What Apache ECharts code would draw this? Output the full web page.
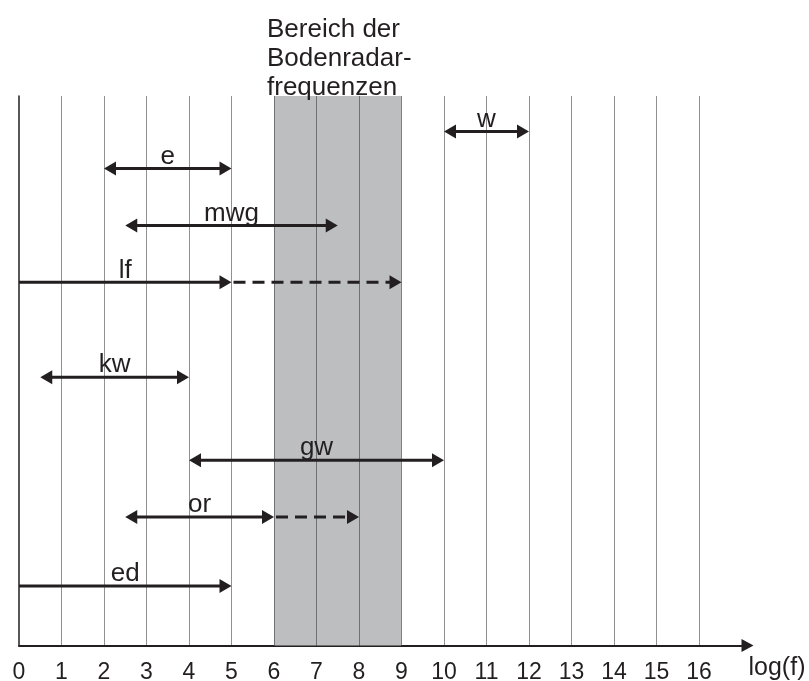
<!DOCTYPE html>
<html>
<head>
<meta charset="utf-8">
<script src="https://cdn.jsdelivr.net/npm/echarts@6/dist/echarts.min.js"></script>
<style>
  html, body { margin: 0; padding: 0; background: #ffffff; }
  #chart { width: 809px; height: 681px; }
</style>
</head>
<body>
<div id="chart"></div>
<script>
// Frequency ranges of the different methods on a log(f) scale
const names      = ['w', 'e', 'mwg', 'lf', 'kw', 'gw', 'or', 'ed'];
const levels     = [10.29, 9.55, 8.41, 7.27, 5.37, 3.71, 2.57, 1.19];
const starts     = [10, 2, 2.5, 0, 0.5, 4, 2.5, 0];
const ends       = [12, 5, 7.5, 5, 4, 10, 6, 5];
const dashedEnds = [null, null, null, 9, null, null, 8, null];
const leftHeads  = [true, true, true, false, true, true, true, false];

// Ground radar frequency band
const bandFrom = 6;
const bandTo = 9;
const bandTitle = 'Bereich der\nBodenradar-\nfrequenzen';

// Axis ticks
const tickValues = [0, 1, 2, 3, 4, 5, 6, 7, 8, 9, 10, 11, 12, 13, 14, 15, 16];
const gridValues = [1, 2, 3, 4, 5, 6, 7, 8, 9, 10, 11, 12, 13, 14, 15, 16];

const INK = '#231f20';
const FONT = '"Liberation Sans", Arial, sans-serif';

const arrowData = names.map((n, i) => [starts[i], ends[i], levels[i], dashedEnds[i] == null ? -1 : dashedEnds[i], leftHeads[i] ? 1 : 0, i]);

function head(tipX, y, dir) {
  const len = 12, half = 7;
  return {
    type: 'polygon',
    shape: { points: [[tipX, y], [tipX - dir * len, y - half], [tipX - dir * len, y + half]] },
    style: { fill: INK }
  };
}

function renderArrow(params, api) {
  const x0 = api.value(0), x1 = api.value(1), lv = api.value(2);
  const xd = api.value(3), hasLeft = api.value(4) === 1, idx = api.value(5);
  const p0 = api.coord([x0, lv]);
  const p1 = api.coord([x1, lv]);
  const y = p0[1];
  const children = [];
  const lineStart = hasLeft ? p0[0] + 10 : p0[0];
  children.push({
    type: 'line',
    shape: { x1: lineStart, y1: y, x2: p1[0] - 10, y2: y },
    style: { stroke: INK, lineWidth: 3 }
  });
  if (hasLeft) children.push(head(p0[0], y, -1));
  children.push(head(p1[0], y, 1));
  if (xd >= 0) {
    const p2 = api.coord([xd, lv]);
    children.push({
      type: 'line',
      shape: { x1: p1[0] + 2, y1: y, x2: p2[0] - 10, y2: y },
      style: { stroke: INK, lineWidth: 3, lineDash: [12, 7] }
    });
    children.push(head(p2[0], y, 1));
  }
  children.push({
    type: 'text',
    style: {
      text: names[idx],
      x: (p0[0] + p1[0]) / 2,
      y: y + 1,
      align: 'center',
      verticalAlign: 'bottom',
      fill: INK,
      font: '26px ' + FONT
    }
  });
  return { type: 'group', children: children };
}

const chart = echarts.init(document.getElementById('chart'), null, { renderer: 'canvas' });

chart.setOption({
  backgroundColor: '#ffffff',
  animation: false,
  title: {
    text: bandTitle,
    left: 267,
    top: 15,
    padding: 0,
    textStyle: { fontSize: 26, fontWeight: 'normal', lineHeight: 29, color: INK, fontFamily: FONT }
  },
  grid: { left: 19, right: 67.5, top: 96, bottom: 35.5, containLabel: false, outerBoundsMode: 'none' },
  xAxis: {
    type: 'value',
    min: 0,
    max: 17,
    interval: 1,
    name: 'log(f)',
    nameLocation: 'end',
    nameGap: 7,
    nameTextStyle: { fontSize: 25, color: INK, fontFamily: FONT, align: 'left', verticalAlign: 'top', padding: [10, 0, 0, 0] },
    axisLine: { show: true, onZero: false, symbol: ['none', 'triangle'], symbolSize: [13, 12], symbolOffset: [0, 6], lineStyle: { color: INK, width: 2 } },
    axisTick: { show: false },
    splitLine: { show: false },
    axisLabel: {
      fontSize: 23,
      color: INK,
      fontFamily: FONT,
      margin: 16,
      formatter: v => tickValues.indexOf(v) >= 0 ? String(v) : ''
    }
  },
  yAxis: {
    type: 'value',
    min: 0,
    max: 11,
    axisLine: { show: true, onZero: false, lineStyle: { color: INK, width: 1.5 } },
    axisTick: { show: false },
    axisLabel: { show: false },
    splitLine: { show: false }
  },
  series: [
    {
      name: 'band',
      type: 'line',
      data: [],
      z: 1,
      silent: true,
      markArea: {
        silent: true,
        itemStyle: { color: '#bcbec0' },
        data: [[{ xAxis: bandFrom }, { xAxis: bandTo }]]
      }
    },
    {
      name: 'grid',
      type: 'line',
      data: [],
      z: 2,
      silent: true,
      markLine: {
        silent: true,
        symbol: ['none', 'none'],
        label: { show: false },
        lineStyle: { color: '#222222', width: 1, type: 'dotted' },
        data: gridValues.map(v => ({ xAxis: v }))
      }
    },
    {
      name: 'ranges',
      type: 'custom',
      z: 3,
      silent: true,
      renderItem: renderArrow,
      data: arrowData,
      encode: { x: [0, 1], y: 2 }
    }
  ]
});
</script>
</body>
</html>
